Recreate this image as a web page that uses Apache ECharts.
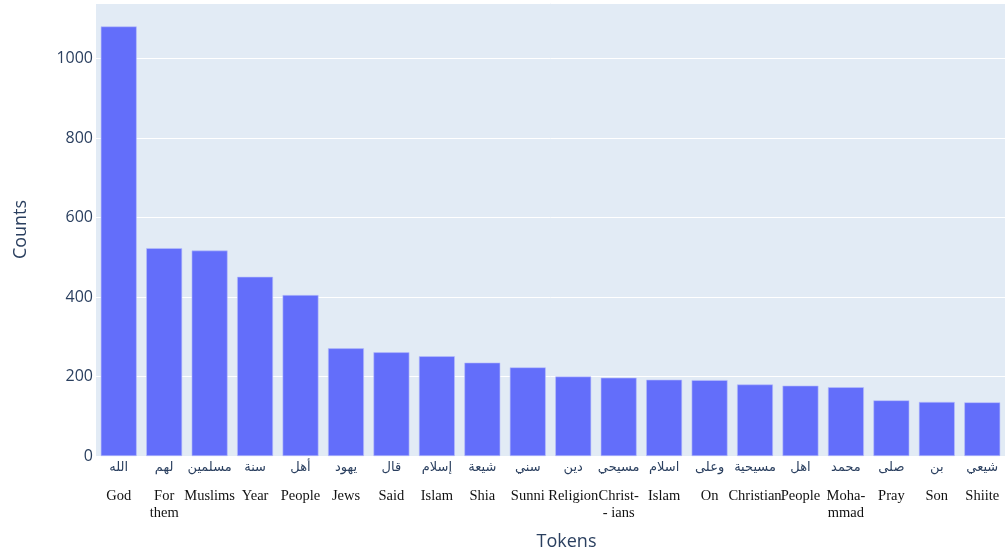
<!DOCTYPE html>
<html>
<head>
<meta charset="utf-8">
<script src="https://cdn.jsdelivr.net/npm/echarts@6/dist/echarts.min.js"></script>
<style>
html,body{margin:0;padding:0;background:#fff;}
#chart{width:1005px;height:554px;}
</style>
</head>
<body>
<div id="chart"></div>
<script>
var arabicLabels = ['الله','لهم','مسلمين','سنة','أهل','يهود','قال','إسلام','شيعة','سني','دين','مسيحي','اسلام','وعلى','مسيحية','اهل','محمد','صلى','بن','شيعي'];
var englishLabels = ['God','For\nthem','Muslims','Year','People','Jews','Said','Islam','Shia','Sunni','Religion','Christ-\n- ians','Islam','On','Christian','People','Moha-\nmmad','Pray','Son','Shiite'];
var counts = [1081, 523, 517, 451, 405, 271, 261, 251, 235, 223, 200, 197, 192, 191, 180, 177, 173, 140, 136, 135];
var yTicks = [0, 200, 400, 600, 800, 1000];

var categories = arabicLabels.map(function(a, i){ return String(i); });

var chart = echarts.init(document.getElementById('chart'));
chart.setOption({
  animation: false,
  grid: {left: 96, right: 0, top: 3, bottom: 98, show: true, backgroundColor: '#e2ebf5', borderWidth: 0, outerBoundsMode: 'none', containLabel: false},
  xAxis: {
    type: 'category',
    data: categories,
    name: 'Tokens',
    nameLocation: 'middle',
    nameGap: 77,
    nameTextStyle: {fontFamily: 'Open Sans', fontSize: 18, color: '#2a3f5f', verticalAlign: 'top', padding: [0, 0, 0, 32]},
    axisLine: {show: false},
    axisTick: {show: false},
    axisLabel: {
      interval: 0,
      margin: 2,
      formatter: function(v){
        var i = parseInt(v, 10);
        var en = englishLabels[i].split('\n').map(function(s){ return '{en|' + s + '}'; }).join('\n');
        return '{ar|' + arabicLabels[i] + '}\n{sp| }\n' + en;
      },
      rich: {
        ar: {fontFamily: 'DejaVu Sans', fontSize: 13, lineHeight: 20, color: '#2a3f5f', align: 'center'},
        sp: {fontSize: 4, lineHeight: 10},
        en: {fontFamily: 'Liberation Serif', fontSize: 14.5, lineHeight: 17, color: '#111', align: 'center'}
      }
    }
  },
  yAxis: {
    type: 'value',
    min: 0,
    max: 1140,
    interval: 200,
    name: 'Counts',
    nameLocation: 'middle',
    nameGap: 66,
    nameTextStyle: {fontFamily: 'Open Sans', fontSize: 18, color: '#2a3f5f'},
    axisLine: {show: false},
    axisTick: {show: false},
    splitLine: {lineStyle: {color: '#ffffff', width: 1}},
    axisLabel: {
      margin: 3,
      showMaxLabel: false,
      fontFamily: 'Open Sans',
      fontSize: 16,
      color: '#2a3f5f',
      formatter: function(v){ return yTicks.indexOf(v) >= 0 ? String(v) : ''; }
    }
  },
  series: [{
    type: 'bar',
    data: counts,
    barCategoryGap: '21%',
    itemStyle: {color: '#636efa', borderColor: '#b9bffb', borderWidth: 0.6}
  }]
});
</script>
</body>
</html>
